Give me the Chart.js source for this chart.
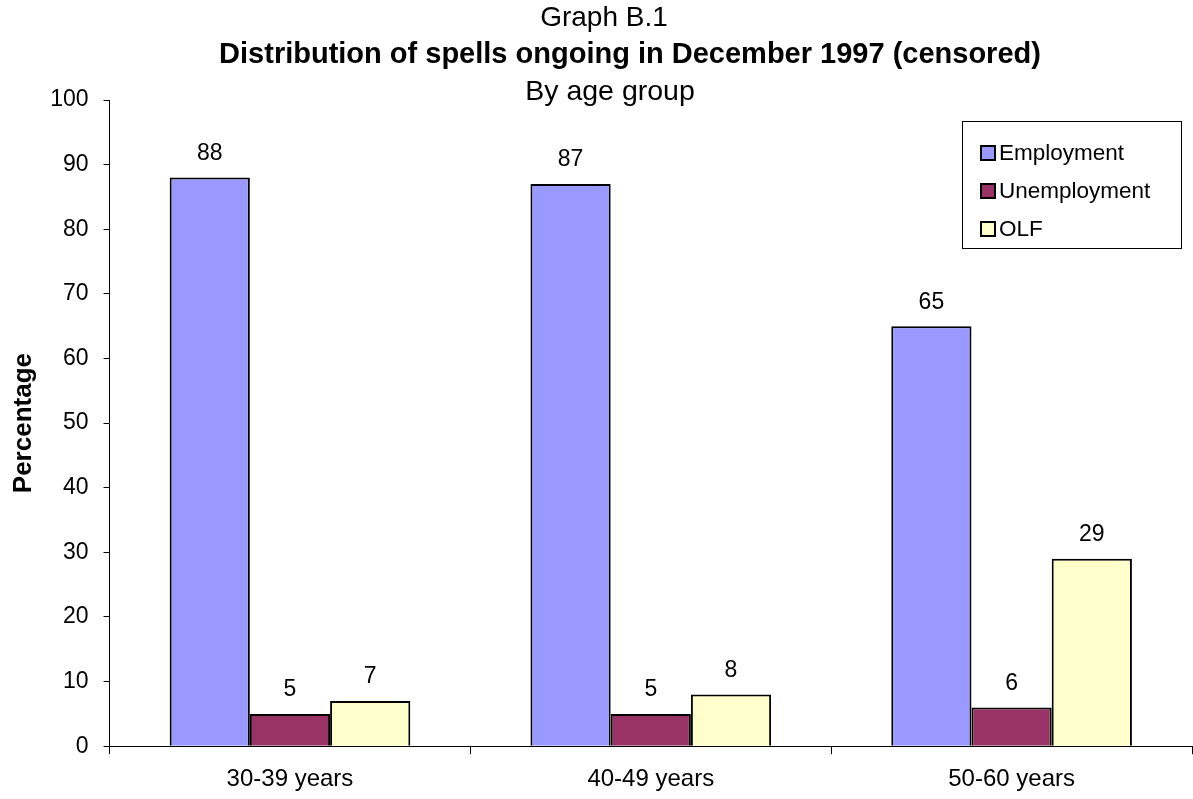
<!DOCTYPE html>
<html>
<head>
<meta charset="utf-8">
<script src="https://cdn.jsdelivr.net/npm/chart.js@4/dist/chart.umd.min.js"></script>
<style>
  html, body { margin: 0; padding: 0; background: #fff; }
  #wrap { width: 1193px; height: 799px; position: relative; }
</style>
</head>
<body>
<div id="wrap"><canvas id="chart"></canvas></div>
<script>
// data
const categories = ['30-39 years', '40-49 years', '50-60 years'];
const employment = [88, 87, 65];
const unemployment = [5, 5, 6];
const olf = [7, 8, 29];
const seriesNames = ['Employment', 'Unemployment', 'OLF'];
const titleLines = ['Graph B.1', 'Distribution of spells ongoing in December 1997 (censored)', 'By age group'];
const yTicks = [0, 10, 20, 30, 40, 50, 60, 70, 80, 90, 100];

const FONT = '"Liberation Sans", Arial, sans-serif';

// title lines, drawn on top of the canvas
const titlePlugin = {
    id: 'titleLines',
    afterDraw(chart) {
        const ctx = chart.ctx;
        ctx.save();
        ctx.fillStyle = '#000';
        ctx.textAlign = 'center';
        ctx.textBaseline = 'middle';
        ctx.font = '28px ' + FONT;
        ctx.fillText(titleLines[0], 604, 18);
        ctx.font = 'bold 29px ' + FONT;
        ctx.fillText(titleLines[1], 630, 55);
        ctx.font = '28.5px ' + FONT;
        ctx.fillText(titleLines[2], 610, 92);
        ctx.restore();
    }
};

// value labels above the bars
const valueLabels = {
    id: 'valueLabels',
    afterDatasetsDraw(chart) {
        const ctx = chart.ctx;
        ctx.save();
        ctx.fillStyle = '#000';
        ctx.font = '23px ' + FONT;
        ctx.textAlign = 'center';
        ctx.textBaseline = 'middle';
        chart.data.datasets.forEach((ds, i) => {
            chart.getDatasetMeta(i).data.forEach((bar, j) => {
                ctx.fillText(ds.data[j], bar.x, bar.y - 24);
            });
        });
        ctx.restore();
    }
};

// boxed legend inside the plot area
const boxLegend = {
    id: 'boxLegend',
    afterDraw(chart) {
        const ctx = chart.ctx;
        const x = 962, y = 121, w = 219, h = 127;
        ctx.save();
        ctx.fillStyle = '#fff';
        ctx.fillRect(x, y, w, h);
        ctx.strokeStyle = '#000';
        ctx.lineWidth = 1;
        ctx.strokeRect(x + 0.5, y + 0.5, w, h);
        ctx.font = '22.5px ' + FONT;
        ctx.textBaseline = 'middle';
        chart.data.datasets.forEach((ds, i) => {
            const ry = 153 + i * 38;
            ctx.fillStyle = ds.backgroundColor;
            ctx.fillRect(981, ry - 7, 14, 14);
            ctx.lineWidth = 2;
            ctx.strokeRect(981, ry - 7, 14, 14);
            ctx.fillStyle = '#000';
            ctx.fillText(ds.label, 999, ry + 1);
        });
        ctx.restore();
    }
};

new Chart(document.getElementById('chart'), {
    type: 'bar',
    data: {
        labels: categories,
        datasets: [
            {label: seriesNames[0], data: employment, backgroundColor: '#9999FF'},
            {label: seriesNames[1], data: unemployment, backgroundColor: '#993366'},
            {label: seriesNames[2], data: olf, backgroundColor: '#FFFFCC'}
        ].map(d => Object.assign(d, {borderColor: '#000', borderWidth: 2, categoryPercentage: 0.667, barPercentage: 1}))
    },
    options: {
        responsive: true,
        maintainAspectRatio: false,
        animation: false,
        layout: {padding: {top: 100, right: 1, bottom: -6, left: 4}},
        plugins: {
            legend: {display: false},
            title: {display: false},
            tooltip: {enabled: false}
        },
        scales: {
            x: {
                grid: {offset: true, drawOnChartArea: false, tickLength: 8, color: '#000'},
                border: {color: '#000'},
                ticks: {color: '#000', font: {family: FONT, size: 24}, padding: 11}
            },
            y: {
                min: 0,
                max: 100,
                afterBuildTicks(axis) { axis.ticks = yTicks.map(v => ({value: v})); },
                grid: {drawOnChartArea: false, tickLength: 6, color: '#000'},
                border: {color: '#000'},
                ticks: {color: '#000', font: {family: FONT, size: 23}, padding: 15},
                title: {display: true, text: 'Percentage', color: '#000', font: {family: FONT, size: 26, weight: 'bold'}, padding: {top: 4, bottom: -4}}
            }
        }
    },
    plugins: [titlePlugin, valueLabels, boxLegend]
});
</script>
</body>
</html>
